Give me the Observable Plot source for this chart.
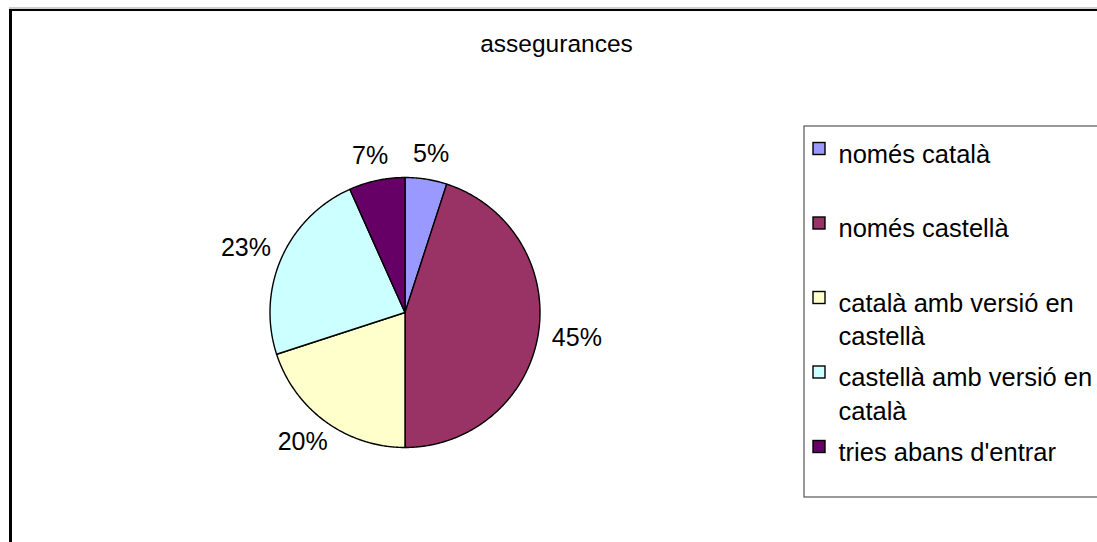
<!DOCTYPE html>
<html>
<head>
<meta charset="utf-8">
<script src="https://cdn.jsdelivr.net/npm/d3@7"></script>
<script src="https://cdn.jsdelivr.net/npm/@observablehq/plot@0.6"></script>
<style>
  html, body { margin: 0; padding: 0; background: #fff; overflow: hidden; }
  #wrap { position: relative; width: 1097px; height: 542px; }
  #area { position: absolute; left: 9px; top: 9px; width: 1200px; height: 700px;
          border-left: 3px solid #000; border-top: 2px solid #000;
          box-shadow: 0 -2px 0 #cfcfcf; }
  #chart { position: absolute; left: 0; top: 0; }
</style>
</head>
<body>
<div id="wrap"><div id="area"></div><div id="chart"></div></div>
<script>
// ---- data ----
const title = "assegurances";
const categories = ["només català", "només castellà", "català amb versió en castellà", "castellà amb versió en català", "tries abans d'entrar"];
const legendLabels = ["només català", "només castellà", "català amb versió en\ncastellà", "castellà amb versió en\ncatalà", "tries abans d'entrar"];
const values = [5, 45, 20, 23.3, 6.7];
const colors = ["#9999FF", "#993366", "#FFFFCC", "#CCFFFF", "#660066"];

// ---- layout ----
const W = 1097, H = 542;
const cx = 404.5, cy = 312, R = 135;
const fs = 25;
const legFs = 25.5;
const font = "'Liberation Sans', Arial, sans-serif";

const total = d3.sum(values);
const arcs = d3.pie().sort(null).value(d => d)(values);

// slice polygons derived from pie angles
const slices = arcs.map((a, i) => {
  const pts = [{x: cx, y: cy}];
  const n = Math.max(2, Math.ceil((a.endAngle - a.startAngle) / (Math.PI / 360)));
  for (let k = 0; k <= n; k++) {
    const t = a.startAngle + (a.endAngle - a.startAngle) * k / n;
    pts.push({x: cx + R * Math.sin(t), y: cy - R * Math.cos(t)});
  }
  pts.push({x: cx, y: cy});
  return pts;
});

// outside labels
const fmt = d3.format(".0%");
const labels = arcs.map((a, i) => {
  const m = (a.startAngle + a.endAngle) / 2;
  const dx = Math.sin(m), dy = -Math.cos(m);
  const txt = fmt(values[i] / total);
  const w = txt.length === 2 ? 36 : 50;
  return {
    text: txt,
    x: cx + (R + 14) * dx + dx * w / 2,
    y: cy + (R + 14) * dy + dy * 11
  };
});

// legend
const legX = 804, legTop = 126, legBottom = 497;
const legend = legendLabels.map((t, i) => {
  const base = 157 + i * 74.5;
  return {text: t, color: colors[i], y: base - 0.71 * legFs, sy: base - 8.5};
});

const marks = [
  ...slices.map((pts, i) => Plot.line(pts, {x: "x", y: "y", fill: colors[i], stroke: "#000", strokeWidth: 1.4, strokeLinejoin: "round"})),
  Plot.text(labels, {x: "x", y: "y", text: "text", fontSize: fs, fontFamily: font, fill: "#000", textAnchor: "middle", lineAnchor: "middle"}),
  Plot.text([title], {x: () => 556, y: () => 44, text: d => d, fontSize: 24.5, fontFamily: font, fill: "#000", textAnchor: "middle"}),
  Plot.rect([0], {x1: () => legX, x2: () => 1120, y1: () => legTop, y2: () => legBottom, fill: "#fff", stroke: "#555", strokeWidth: 1.2}),
  Plot.rect(legend, {x1: () => 813, x2: () => 825, y1: d => d.sy - 6, y2: d => d.sy + 6, fill: "color", stroke: "#000", strokeWidth: 1.4}),
  Plot.text(legend, {x: () => 838, y: "y", text: "text", fontSize: legFs, fontFamily: font, fill: "#000", textAnchor: "start", lineAnchor: "top", lineHeight: 1.3})
];

const chart = Plot.plot({
  width: W, height: H,
  margin: 0,
  x: {domain: [0, W], range: [0, W], axis: null},
  y: {domain: [0, H], range: [0, H], axis: null},
  color: {type: "identity"},
  style: {background: "transparent", fontFamily: font, overflow: "hidden"},
  marks
});
document.getElementById("chart").appendChild(chart);
</script>
</body>
</html>
